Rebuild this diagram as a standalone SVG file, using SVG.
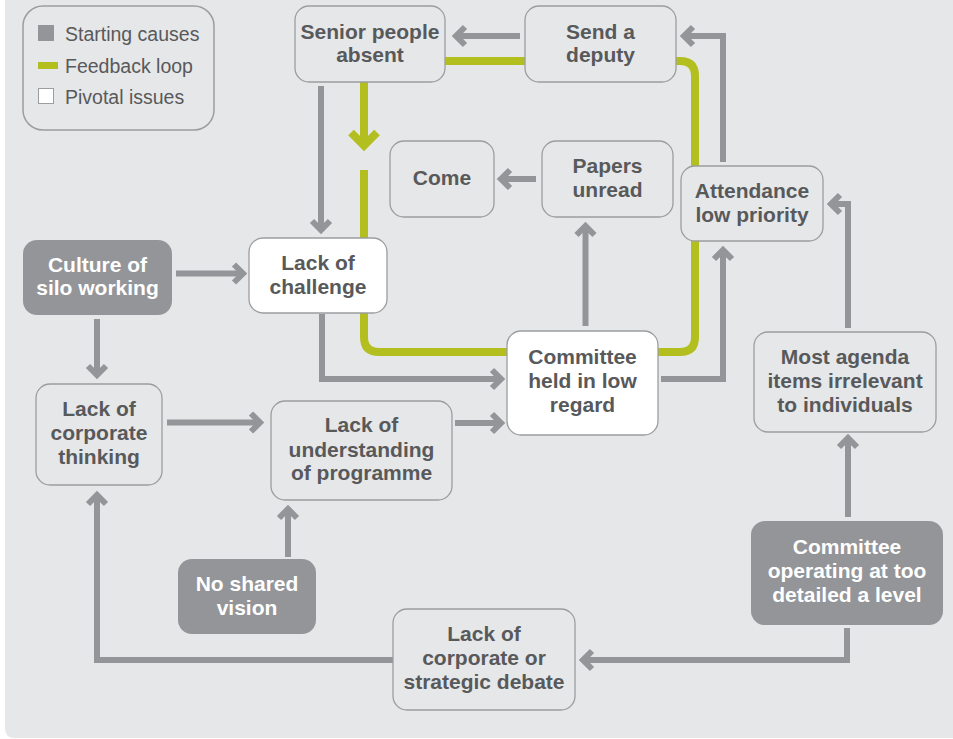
<svg xmlns="http://www.w3.org/2000/svg" width="953" height="739" viewBox="0 0 953 739">
<style>
text{font-family:"Liberation Sans",Arial,Helvetica,sans-serif;}
.n{font-size:21px;font-weight:bold;fill:#58595b;text-anchor:middle;}
.d .n{fill:#ffffff;}
.box{fill:#e6e7e8;stroke:#9c9d9f;stroke-width:1.3;}
.wbox{fill:#ffffff;stroke:#9c9d9f;stroke-width:1.3;}
.dbox{fill:#939598;stroke:none;}
.c{fill:none;stroke:#949598;stroke-width:6;stroke-linejoin:miter;marker-end:url(#ah);}
.g{fill:none;stroke:#b2bf1f;stroke-width:8;}
.lg{font-size:19.5px;fill:#58595b;}
</style>
<defs>
<marker id="ah" viewBox="-15 -15 30 30" markerWidth="30" markerHeight="30" refX="0" refY="0" orient="auto" markerUnits="userSpaceOnUse">
<path d="M -9 -9 L 0 0 L -9 9" fill="none" stroke="#949598" stroke-width="6" stroke-linejoin="miter"/>
</marker>
</defs>
<rect width="953" height="739" fill="#ffffff"/>
<path d="M5 0 H953 V738 H15 Q5 738 5 728 Z" fill="#e6e7e8"/>

<g id="legend">
<rect x="23" y="6" width="191" height="124" rx="20" fill="none" stroke="#9c9d9f" stroke-width="1.5"/>
<rect x="38" y="25" width="16" height="16" fill="#939598"/>
<text class="lg" x="65" y="41">Starting causes</text>
<rect x="38" y="62" width="20" height="7" fill="#b2bf1f"/>
<text class="lg" x="65" y="73">Feedback loop</text>
<rect x="38.5" y="88.5" width="15" height="15" fill="#ffffff" stroke="#9c9d9f" stroke-width="1"/>
<text class="lg" x="65" y="104">Pivotal issues</text>
</g>

<g id="feedback-loop">
<path class="g" d="M364 170 V337 Q364 352 379 352 H680 Q695 352 695 337 V76 Q695 61 680 61 H420"/>
<path class="g" d="M364 82 V146"/>
<path d="M351 132.5 L364 145.5 L377 132.5" fill="none" stroke="#b2bf1f" stroke-width="8" stroke-linejoin="miter"/>
</g>

<g id="connectors">
<path class="c" d="M520 36 H456"/>
<path class="c" d="M723 162 V36 H684"/>
<path class="c" d="M321 86 V230"/>
<path class="c" d="M536 179 H501"/>
<path class="c" d="M585.5 326 V226"/>
<path class="c" d="M661 379 H723 V250"/>
<path class="c" d="M848 328 V204 H831"/>
<path class="c" d="M848 517 V438"/>
<path class="c" d="M847 628 V660 H583"/>
<path class="c" d="M393 660 H97 V495"/>
<path class="c" d="M288 557 V509"/>
<path class="c" d="M176 273.5 H243"/>
<path class="c" d="M97 319 V375"/>
<path class="c" d="M167 422.5 H260"/>
<path class="c" d="M322 314 V379 H501"/>
<path class="c" d="M455 423 H501"/>
</g>

<g id="senior-people-absent">
<rect class="box" x="295" y="6" width="150" height="76" rx="14"/>
<text class="n" x="370" y="39">Senior people</text>
<text class="n" x="370" y="62">absent</text>
</g>
<g id="send-a-deputy">
<rect class="box" x="525" y="6" width="151" height="76" rx="14"/>
<text class="n" x="600.5" y="39">Send a</text>
<text class="n" x="600.5" y="62">deputy</text>
</g>
<g id="come">
<rect class="box" x="390" y="141" width="104" height="76" rx="14"/>
<text class="n" x="442" y="185">Come</text>
</g>
<g id="papers-unread">
<rect class="box" x="542" y="141" width="131" height="76" rx="14"/>
<text class="n" x="607.5" y="173">Papers</text>
<text class="n" x="607.5" y="197">unread</text>
</g>
<g id="attendance-low-priority">
<rect class="box" x="681" y="166" width="142" height="75" rx="14"/>
<text class="n" x="752" y="198">Attendance</text>
<text class="n" x="752" y="222">low priority</text>
</g>
<g id="culture-of-silo-working" class="d">
<rect class="dbox" x="23" y="240" width="149" height="75" rx="14"/>
<text class="n" x="97.5" y="272">Culture of</text>
<text class="n" x="97.5" y="295">silo working</text>
</g>
<g id="lack-of-challenge">
<rect class="wbox" x="249" y="238" width="138" height="75" rx="14"/>
<text class="n" x="318" y="270">Lack of</text>
<text class="n" x="318" y="294">challenge</text>
</g>
<g id="lack-of-corporate-thinking">
<rect class="box" x="36" y="384" width="126" height="101" rx="14"/>
<text class="n" x="99" y="416">Lack of</text>
<text class="n" x="99" y="440">corporate</text>
<text class="n" x="99" y="464">thinking</text>
</g>
<g id="lack-of-understanding">
<rect class="box" x="271" y="401" width="181" height="99" rx="14"/>
<text class="n" x="361.5" y="432">Lack of</text>
<text class="n" x="361.5" y="457">understanding</text>
<text class="n" x="361.5" y="480">of programme</text>
</g>
<g id="committee-held-in-low-regard">
<rect class="wbox" x="507" y="331" width="151" height="104" rx="14"/>
<text class="n" x="582.5" y="364">Committee</text>
<text class="n" x="582.5" y="388">held in low</text>
<text class="n" x="582.5" y="412">regard</text>
</g>
<g id="most-agenda-items">
<rect class="box" x="754" y="332" width="182" height="100" rx="14"/>
<text class="n" x="845" y="364">Most agenda</text>
<text class="n" x="845" y="388">items irrelevant</text>
<text class="n" x="845" y="412">to individuals</text>
</g>
<g id="no-shared-vision" class="d">
<rect class="dbox" x="178" y="559" width="138" height="75" rx="14"/>
<text class="n" x="247" y="591">No shared</text>
<text class="n" x="247" y="615">vision</text>
</g>
<g id="committee-operating" class="d">
<rect class="dbox" x="751" y="521" width="192" height="104" rx="14"/>
<text class="n" x="847" y="554">Committee</text>
<text class="n" x="847" y="578">operating at too</text>
<text class="n" x="847" y="602">detailed a level</text>
</g>
<g id="lack-of-strategic-debate">
<rect class="box" x="393" y="609" width="182" height="101" rx="14"/>
<text class="n" x="484" y="641">Lack of</text>
<text class="n" x="484" y="665">corporate or</text>
<text class="n" x="484" y="689">strategic debate</text>
</g>
</svg>
